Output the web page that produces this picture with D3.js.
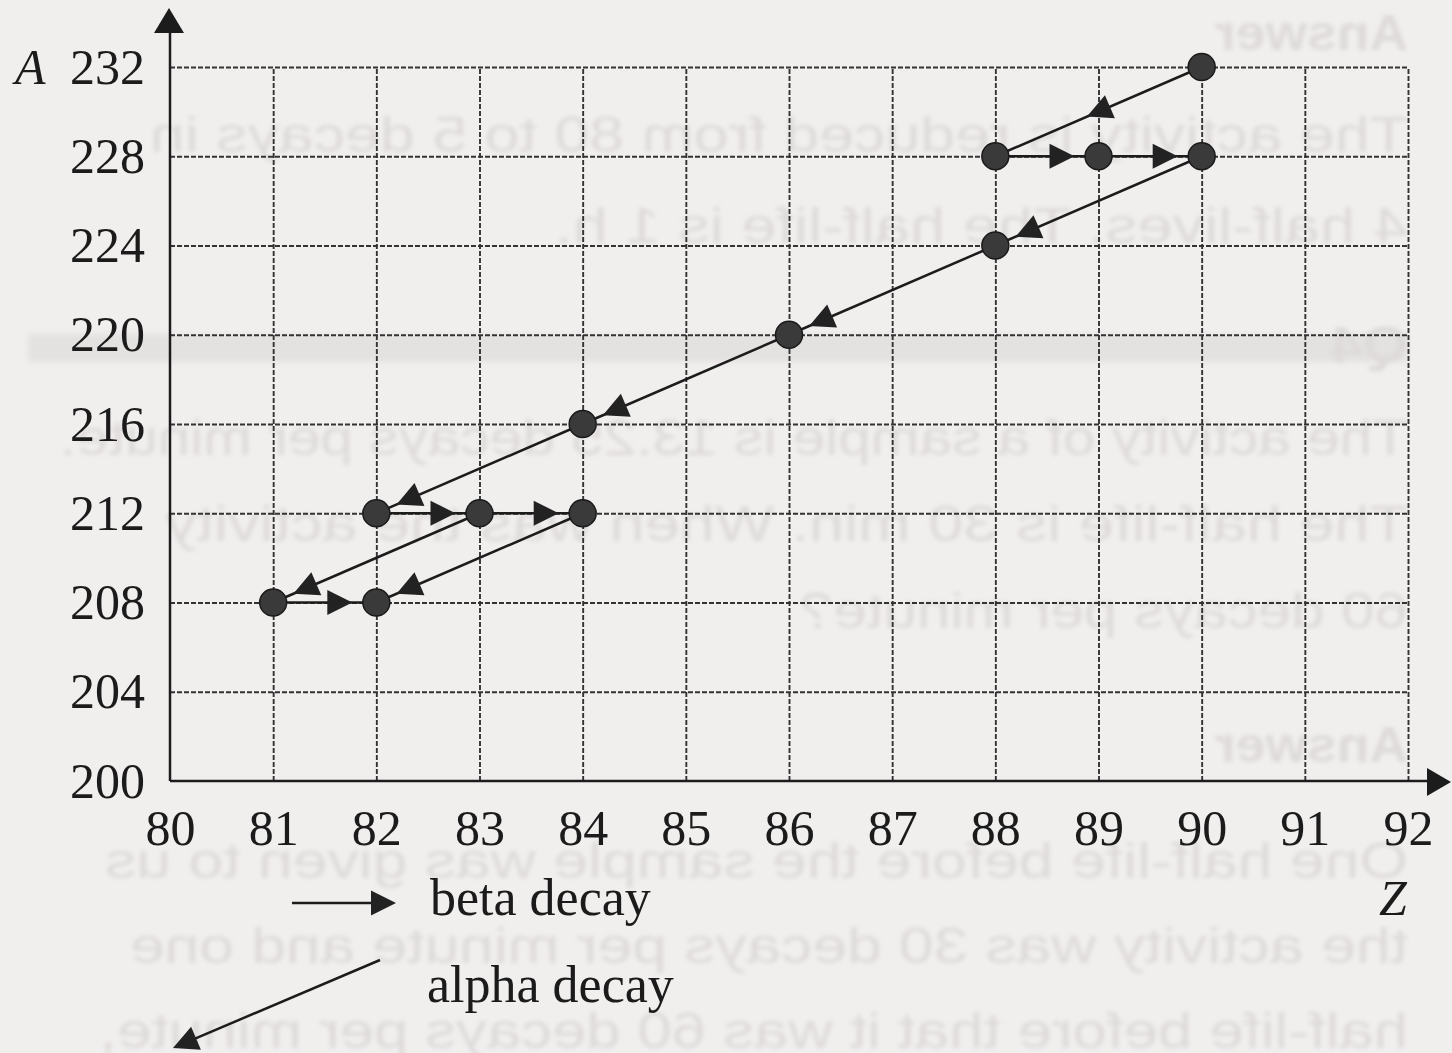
<!DOCTYPE html>
<html>
<head>
<meta charset="utf-8">
<script src="https://cdn.jsdelivr.net/npm/d3@7"></script>
<style>
  html, body { margin: 0; padding: 0; background: #f1eeee; }
  svg { display: block; }
</style>
</head>
<body>
<svg id="chart" width="1452" height="1053"></svg>
<script>
// Thorium-232 decay chain on a Z (proton number) vs A (nucleon number) grid.
const zTicks = [80, 81, 82, 83, 84, 85, 86, 87, 88, 89, 90, 91, 92];
const aTicks = [200, 204, 208, 212, 216, 220, 224, 228, 232];

// nuclides in the chain: [Z, A]
const nuclides = [
  [90, 232], [88, 228], [89, 228], [90, 228], [88, 224], [86, 220],
  [84, 216], [82, 212], [83, 212], [84, 212], [81, 208], [82, 208]
];

// alpha decays: [fromZ, fromA, toZ, toA]
const alphaSteps = [
  [90, 232, 88, 228],
  [90, 228, 88, 224],
  [88, 224, 86, 220],
  [86, 220, 84, 216],
  [84, 216, 82, 212],
  [83, 212, 81, 208],
  [84, 212, 82, 208]
];

// beta decays: [fromZ, fromA, toZ, toA]
const betaSteps = [
  [88, 228, 89, 228],
  [89, 228, 90, 228],
  [82, 212, 83, 212],
  [83, 212, 84, 212],
  [81, 208, 82, 208]
];

// legend entries
const legendLabels = ["beta decay", "alpha decay"];

// faint lines of the facing page showing through the paper
const reverseLines = [
  { t: "Answer", bold: true },
  { t: "The activity is reduced from 80 to 5 decays in" },
  { t: "4 half-lives. The half-life is 1 h." },
  { t: "Q4", bold: true, band: true },
  { t: "The activity of a sample is 13.25 decays per minute." },
  { t: "The half-life is 30 min. When was the activity" },
  { t: "60 decays per minute?" },
  { t: "Answer", bold: true },
  { t: "One half-life before the sample was given to us" },
  { t: "the activity was 30 decays per minute and one" },
  { t: "half-life before that it was 60 decays per minute," }
];
const reverseBaselines = [50, 152, 243, 362, 455, 541, 628, 762, 878, 963, 1048];
const reverseLeftEdges = [1215, 150, 555, 1330, 60, 165, 800, 1215, 105, 130, 100];

const svg = d3.select("#chart");
const W = 1452, H = 1053;
const SERIF = "'Liberation Serif', 'Times New Roman', serif";

const x = d3.scaleLinear().domain([80, 92]).range([170, 1408]);
const y = d3.scaleLinear().domain([200, 232]).range([781, 67]);

// ---- show-through text of the reverse page ----
const defs = svg.append("defs");
defs.append("filter").attr("id", "soft")
  .attr("x", "-5%").attr("y", "-20%").attr("width", "110%").attr("height", "140%")
  .append("feGaussianBlur").attr("stdDeviation", 1.9);
defs.append("filter").attr("id", "softer")
  .attr("x", "-5%").attr("y", "-50%").attr("width", "110%").attr("height", "200%")
  .append("feGaussianBlur").attr("stdDeviation", 3);

svg.append("rect").attr("width", W).attr("height", H).attr("fill", "#f1eeee");

const rightMargin = 1408;
const back = svg.append("g").attr("transform", `translate(${W},0) scale(-1,1)`);
reverseLines.forEach(ln => {
  if (ln.band) {
    back.append("rect")
      .attr("x", W - rightMargin).attr("y", 334)
      .attr("width", rightMargin - 28).attr("height", 28)
      .attr("fill", "#e4e1e1").attr("filter", "url(#softer)");
  }
});
back.selectAll("text.rev").data(reverseLines).join("text")
  .attr("class", "rev")
  .attr("x", W - rightMargin)
  .attr("y", (d, i) => reverseBaselines[i])
  .attr("textLength", (d, i) => rightMargin - reverseLeftEdges[i])
  .attr("lengthAdjust", "spacingAndGlyphs")
  .attr("font-family", "'Liberation Sans', Arial, sans-serif")
  .attr("font-size", 50)
  .attr("font-weight", d => d.bold ? 700 : 400)
  .attr("fill", "#dedada")
  .attr("filter", "url(#soft)")
  .text(d => d.t);

// ---- grid + tick labels via d3 axes ----
const gridColor = "#333";
const gridDash = "5,2";
const xAxis = d3.axisBottom(x)
  .tickValues(zTicks)
  .tickSizeInner(-(y(200) - y(232)))
  .tickSizeOuter(0)
  .tickPadding(28)
  .tickFormat(d3.format("d"));
const gx = svg.append("g").attr("transform", `translate(0,${y(200)})`).call(xAxis);
gx.select(".domain").remove();
gx.selectAll(".tick line")
  .attr("stroke", gridColor).attr("stroke-width", 1.9).attr("stroke-dasharray", gridDash)
  .filter(d => d === 80).remove();
gx.selectAll(".tick text")
  .attr("font-family", SERIF).attr("font-size", 50).attr("fill", "#1b1b1b");

const yAxis = d3.axisLeft(y)
  .tickValues(aTicks)
  .tickSizeInner(-(x(92) - x(80)))
  .tickSizeOuter(0)
  .tickPadding(25)
  .tickFormat(d3.format("d"));
const gy = svg.append("g").attr("transform", `translate(${x(80)},0)`).call(yAxis);
gy.select(".domain").remove();
gy.selectAll(".tick line")
  .attr("stroke", gridColor).attr("stroke-width", 1.9).attr("stroke-dasharray", gridDash)
  .filter(d => d === 200).remove();
gy.selectAll(".tick text")
  .attr("font-family", SERIF).attr("font-size", 50).attr("fill", "#1b1b1b");

// ---- axes with arrowheads ----
const ink = "#1c1c1c";
svg.append("line")
  .attr("x1", x(80)).attr("y1", y(200)).attr("x2", x(80)).attr("y2", 30)
  .attr("stroke", ink).attr("stroke-width", 2.5);
svg.append("path")
  .attr("d", `M${x(80) - 1},8 L${x(80) + 14},33 L${x(80) - 16},33 Z`)
  .attr("fill", ink);
svg.append("line")
  .attr("x1", x(80)).attr("y1", y(200)).attr("x2", 1430).attr("y2", y(200))
  .attr("stroke", ink).attr("stroke-width", 2.5);
svg.append("path")
  .attr("d", `M1451,${y(200) + 1} L1427,${y(200) - 13} L1427,${y(200) + 15} Z`)
  .attr("fill", ink);

// axis titles
svg.append("text").attr("x", 15).attr("y", y(232) + 17)
  .attr("font-family", SERIF).attr("font-style", "italic").attr("font-size", 50)
  .attr("fill", "#1b1b1b").text("A");
svg.append("text").attr("x", 1379).attr("y", 915)
  .attr("font-family", SERIF).attr("font-style", "italic").attr("font-size", 50)
  .attr("fill", "#1b1b1b").text("Z");

// ---- arrows ----
const HEAD_L = 25, HEAD_W = 12.5;
function headPath(tx, ty, ang) {
  const c = Math.cos(ang), s = Math.sin(ang);
  const p = (u, v) => [tx + u * c - v * s, ty + u * s + v * c];
  const a = p(0, 0), b = p(-HEAD_L, -HEAD_W), d = p(-HEAD_L, HEAD_W);
  return `M${a[0]},${a[1]} L${b[0]},${b[1]} L${d[0]},${d[1]} Z`;
}

// where the head tip sits: distance from the target nuclide's centre,
// except the first alpha decay whose head sits mid-way along the arrow
const ALPHA_TIP_GAP = 22, BETA_TIP_GAP = 24, FIRST_ALPHA_FRACTION = 0.556;

function drawStep(g, s, tipAt) {
  const x1 = x(s[0]), y1 = y(s[1]), x2 = x(s[2]), y2 = y(s[3]);
  const len = Math.hypot(x2 - x1, y2 - y1);
  const ux = (x2 - x1) / len, uy = (y2 - y1) / len;
  const dist = tipAt(len);
  g.append("line")
    .attr("x1", x1).attr("y1", y1).attr("x2", x2).attr("y2", y2)
    .attr("stroke", ink).attr("stroke-width", 2.5);
  g.append("path")
    .attr("d", headPath(x1 + ux * dist, y1 + uy * dist, Math.atan2(uy, ux)))
    .attr("fill", "#222");
}

const arrows = svg.append("g");
alphaSteps.forEach((s, i) =>
  drawStep(arrows, s, len => i === 0 ? len * FIRST_ALPHA_FRACTION : len - ALPHA_TIP_GAP));
betaSteps.forEach(s => drawStep(arrows, s, len => len - BETA_TIP_GAP));

// ---- nuclides ----
svg.append("g").selectAll("circle").data(nuclides).join("circle")
  .attr("cx", d => x(d[0])).attr("cy", d => y(d[1]))
  .attr("r", 13.5)
  .attr("fill", "#3a3a3a")
  .attr("stroke", "#1a1a1a").attr("stroke-width", 1.5);

// ---- legend ----
const leg = svg.append("g");
leg.append("line").attr("x1", 292).attr("y1", 903).attr("x2", 380).attr("y2", 903)
  .attr("stroke", ink).attr("stroke-width", 2.5);
leg.append("path").attr("d", headPath(396, 903, 0)).attr("fill", "#222");
const ax1 = 380, ay1 = 960, ax2 = 173, ay2 = 1048;
leg.append("line").attr("x1", ax1).attr("y1", ay1).attr("x2", ax2 + 15).attr("y2", ay2 - 6.4)
  .attr("stroke", ink).attr("stroke-width", 2.5);
leg.append("path").attr("d", headPath(ax2, ay2, Math.atan2(ay2 - ay1, ax2 - ax1))).attr("fill", "#222");

leg.selectAll("text").data(legendLabels).join("text")
  .attr("x", (d, i) => i === 0 ? 430 : 427)
  .attr("y", (d, i) => i === 0 ? 915 : 1002)
  .attr("font-family", SERIF).attr("font-size", (d, i) => i === 0 ? 52 : 52)
  .attr("fill", "#1b1b1b")
  .text(d => d);
</script>
</body>
</html>
